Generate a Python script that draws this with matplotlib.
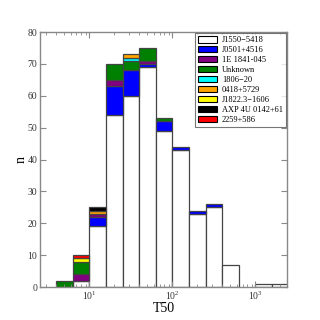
import numpy as np
import matplotlib
matplotlib.use('Agg')
import matplotlib.pyplot as plt
from matplotlib.patches import Patch

plt.rcParams['font.family'] = ['Liberation Serif', 'DejaVu Serif']

# bins are 0.2 dex wide, from 10^0.6 to 10^3.4
edges = np.logspace(0.6, 3.4, 15)

sources = ['J1550\u22125418', 'J0501+4516', '1E 1841-045', 'Unknown', '1806\u221220',
           '0418+5729', 'J1822.3\u22121606', 'AXP 4U 0142+61', '2259+586']
colors = ['white', 'blue', 'purple', 'green', 'cyan', 'orange', 'yellow', 'black', 'red']

j1550 = [0, 2, 19, 54, 60, 69, 49, 43, 23, 25, 7, 0, 1, 1]
j0501 = [0, 0, 3, 9, 8, 1, 3, 1, 1, 1, 0, 0, 0, 0]
e1841 = [0, 2, 1, 2, 0, 1, 0, 0, 0, 0, 0, 0, 0, 0]
unknown = [2, 4, 0, 5, 3, 4, 1, 0, 0, 0, 0, 0, 0, 0]
s1806 = [0, 0, 0, 0, 1, 0, 0, 0, 0, 0, 0, 0, 0, 0]
s0418 = [0, 0, 1, 0, 1, 0, 0, 0, 0, 0, 0, 0, 0, 0]
j1822 = [0, 1, 0, 0, 0, 0, 0, 0, 0, 0, 0, 0, 0, 0]
axp0142 = [0, 0, 1, 0, 0, 0, 0, 0, 0, 0, 0, 0, 0, 0]
s2259 = [0, 1, 0, 0, 0, 0, 0, 0, 0, 0, 0, 0, 0, 0]

counts = [j1550, j0501, e1841, unknown, s1806, s0418, j1822, axp0142, s2259]

fig = plt.figure(figsize=(3.2, 3.2), dpi=100)
ax = fig.add_axes([0.125, 0.103, 0.772, 0.797])

left = edges[:-1]
width = edges[1:] - edges[:-1]
bottom = np.zeros(len(left))
handles = []
for name, col, c in zip(sources, colors, counts):
	c = np.array(c, dtype=float)
	mask = c > 0
	ax.bar(left[mask], c[mask], width=width[mask], bottom=bottom[mask], align='edge',
	       color=col, edgecolor='#444444', linewidth=0.9)
	handles.append(Patch(facecolor=col, edgecolor='black', linewidth=0.8, label=name))
	bottom += c

ax.set_xscale('log')
ax.set_xlim(2.55, 2400)
ax.set_ylim(0, 80)
ax.set_xlabel('T50', fontsize=10, labelpad=0)
ax.set_ylabel('n', fontsize=10, labelpad=0)

for s in ax.spines.values():
	s.set_color('#888888')
	s.set_linewidth(1.0)
ax.tick_params(which='both', direction='in', top=True, right=True, colors='#888888',
               labelcolor='#333333', labelsize=7, pad=2)
ax.tick_params(which='major', length=4)
ax.tick_params(which='minor', length=2)

leg = ax.legend(handles=handles, loc='upper right', fontsize=6, frameon=True, fancybox=False,
                handlelength=2.3, handleheight=0.8, labelspacing=0.22, handletextpad=0.6,
                borderaxespad=0.15, borderpad=0.35)
leg.get_frame().set_edgecolor('#555555')
leg.get_frame().set_linewidth(0.8)

fig.savefig('out.png', dpi=100)
